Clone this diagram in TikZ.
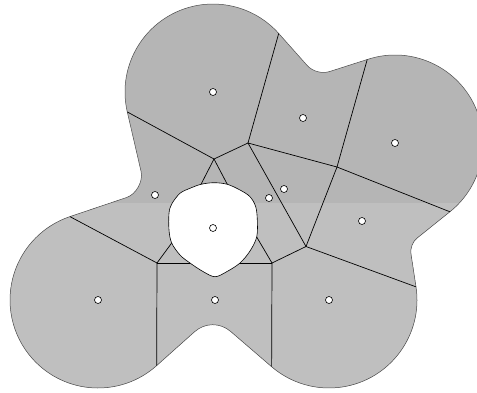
\documentclass[tikz,border=0pt]{standalone}
\usepackage{tikz}
\usetikzlibrary{calc}
\tikzset{
    skin/.style={
        x=1pt, y=-1pt,
        union/.style={fill=black!29},
        lighter/.style={fill=black!25},
        rim/.style={draw=black!70, line width=0.5pt},
        hole/.style={fill=white, draw=black, line width=0.6pt},
        cell/.style={draw=black, line width=0.7pt},
        site/.style={circle, fill=white, draw=black, line width=0.6pt, inner sep=0pt, minimum size=7pt}
    }
}
% outline of the union of balls
\newcommand{\rimpath}{(b1) arc[start angle=166.9, end angle=318.3, radius=88]
    -- (307.1,65.4) .. controls (312.4,71.4) and (322.1,74.0) .. (329.7,71.5)
    -- (b3) arc[start angle=251.6, end angle=411.4, radius=88]
    -- (417.3,237.9) .. controls (412.6,241.6) and (410.1,248.1) .. (411.0,254.0)
    -- (b5) arc[start angle=-8.6, end angle=130.7, radius=88]
    -- (230.6,331.4) .. controls (220.0,322.3) and (204.9,322.5) .. (194.5,331.8)
    -- (b7) arc[start angle=48.2, end angle=251.4, radius=88]
    -- (126.6,197.5) .. controls (136.1,194.3) and (143.3,181.4) .. (141.1,171.6)
    -- cycle}

\begin{document}
\begin{tikzpicture}[skin]
    \useasboundingbox (0,0) rectangle (477,392);
    \clip (0,0) rectangle (477,392);

    % centres of the outer balls
    \coordinate (c1) at (213,92);
    \coordinate (c3) at (395,143);
    \coordinate (c9) at (98,300);
    \coordinate (c11) at (329,300);

    % where the walls meet the rim
    \coordinate (b1) at ($(c1)+(166.9:88)$);
    \coordinate (b2) at ($(c1)+(318.3:88)$);
    \coordinate (b3) at ($(c3)+(251.6:88)$);
    \coordinate (b4) at ($(c3)+(51.4:88)$);
    \coordinate (b5) at ($(c11)+(-8.6:88)$);
    \coordinate (b6) at ($(c11)+(130.7:88)$);
    \coordinate (b7) at ($(c9)+(48.2:88)$);
    \coordinate (b8) at ($(c9)+(251.4:88)$);

    % Voronoi vertices
    \coordinate (vA) at (214,159);
    \coordinate (vB) at (248,143);
    \coordinate (vC) at (337,167);
    \coordinate (vD) at (306,246.5);
    \coordinate (vE) at (272,263);
    \coordinate (vF) at (157,263);

    % where the walls meet the hole
    \coordinate (hA1) at (201,184.3);
    \coordinate (hA2) at (227.3,184.3);
    \coordinate (hE1) at (256.7,237);
    \coordinate (hE2) at (240,263);
    \coordinate (hF1) at (171.7,243);
    \coordinate (hF2) at (190,263);

    % shaded body
    \path[union] \rimpath;
    \begin{scope}
        \clip \rimpath;
        \fill[lighter] (0,203) rectangle (477,392);
    \end{scope}
    \path[rim] \rimpath;

    % cell walls
    \foreach \u/\v in {vA/b1, vA/vB, vA/hA1, vA/hA2, vB/b2, vB/vC, vB/vD,
                       vC/b3, vC/b4, vC/vD, vD/b5, vD/vE,
                       vE/hE1, vE/hE2, vE/b6, vF/b8, vF/hF1, vF/hF2, vF/b7}
        \draw[cell] (\u) -- (\v);

    % the hole
    \draw[hole] plot[smooth cycle, tension=0.55] coordinates {
        (201,184.3) (214,182.7) (227.3,184.3) (240,190) (250,196.7)
        (255.7,206.7) (257.3,220) (256.7,237) (250,251) (240,263)
        (226.7,271.7) (215,276.7) (203.3,271.7) (190,263) (180,255)
        (171.7,243) (169,230) (169,213.3) (171.7,204) (180,193.3) (190,188.3)};

    % sites
    \foreach \n/\x/\y in {1/213/92, 2/303/118, 3/395/143, 4/155/195, 5/269/198,
                          6/284/189, 7/362/221, 8/213/228, 9/98/300, 10/215/300, 11/329/300}
        \node[site] (s\n) at (\x,\y) {};
\end{tikzpicture}
\end{document}
